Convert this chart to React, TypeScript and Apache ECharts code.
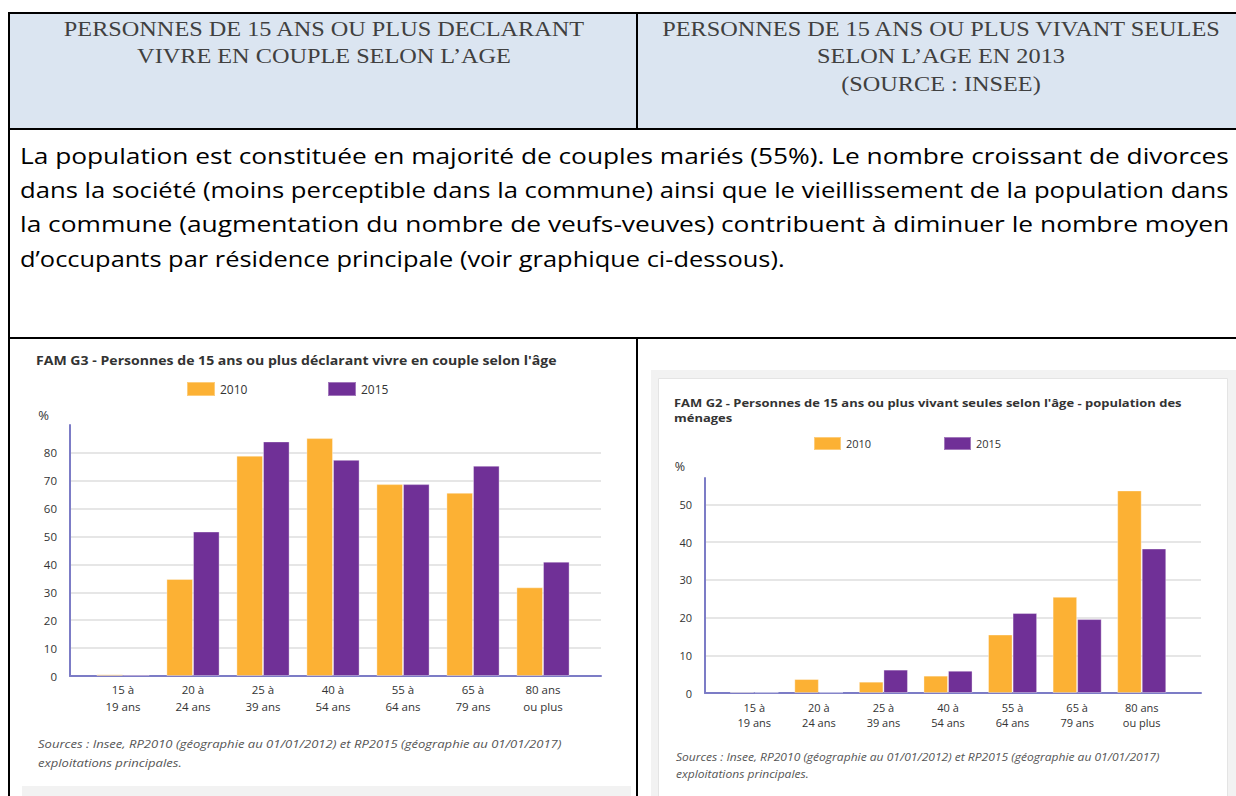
import React, { useEffect, useRef } from "react";
import * as echarts from "echarts";

const categories = [
  "15 à\n19 ans",
  "20 à\n24 ans",
  "25 à\n39 ans",
  "40 à\n54 ans",
  "55 à\n64 ans",
  "65 à\n79 ans",
  "80 ans\nou plus",
];
const seriesNames = ["2010", "2015"];
const couple2010 = [0.6, 34.8, 79.0, 85.3, 68.8, 65.7, 31.8];
const couple2015 = [0.5, 51.8, 84.1, 77.5, 68.8, 75.4, 41.0];
const seules2010 = [0.3, 3.7, 3.0, 4.6, 15.5, 25.5, 53.7];
const seules2015 = [0.2, 0.2, 6.2, 5.9, 21.2, 19.6, 38.3];
const coupleAxisMax = 90;
const seulesAxisMax = 57;
const tickStep = 10;

const headerLeft = ["PERSONNES DE 15 ANS OU PLUS DECLARANT", "VIVRE EN COUPLE SELON L’AGE"];
const headerRight = ["PERSONNES DE 15 ANS OU PLUS VIVANT SEULES", "SELON L’AGE EN 2013", "(SOURCE : INSEE)"];
const paragraph = [
  "La population est constituée en majorité de couples mariés (55%). Le nombre croissant de divorces",
  "dans la société (moins perceptible dans la commune) ainsi que le vieillissement de la population dans",
  "la commune (augmentation du nombre de veufs-veuves) contribuent à diminuer le nombre moyen",
  "d’occupants par résidence principale (voir graphique ci-dessous).",
];
const titleG3 = "FAM G3 - Personnes de 15 ans ou plus déclarant vivre en couple selon l'âge";
const titleG2 = ["FAM G2 - Personnes de 15 ans ou plus vivant seules selon l'âge - population des", "ménages"];
const sourceLines = [
  "Sources : Insee, RP2010 (géographie au 01/01/2012) et RP2015 (géographie au 01/01/2017)",
  "exploitations principales.",
];

const ORANGE = "#fcb134";
const PURPLE = "#703097";
const AXIS = "#7c7cc6";
const GRIDC = "#e6e6e6";
const SANS = "'Open Sans', 'Noto Sans', sans-serif";
const SERIF = "'Liberation Serif', serif";

export default function App() {
  const ref = useRef<HTMLDivElement>(null);
  useEffect(() => {
    if (!ref.current) return;
    const chart = echarts.init(ref.current, undefined, { renderer: "svg" });

    const ctx = document.createElement("canvas").getContext("2d")!;
    const measure = (text: string, size: number, family: string, weight = "normal", style = "normal") => {
      ctx.font = `${style} ${weight} ${size}px ${family}`;
      return ctx.measureText(text).width || 1;
    };

    const black = (x: number, y: number, w: number, h: number) => ({
      type: "rect", z: -5, shape: { x, y, width: w, height: h }, style: { fill: "#000" },
    });
    const txt = (x: number, y: number, text: string, sx: number, s: any) => ({
      type: "text", z: 5, x, y, scaleX: sx, style: { text, verticalAlign: "middle", ...s },
    });

    const graphics: any[] = [
      { type: "rect", z: -10, shape: { x: 10, y: 14, width: 1232, height: 114 }, style: { fill: "#dbe5f1" } },
      { type: "rect", z: -9, shape: { x: 651, y: 370, width: 600, height: 450 }, style: { fill: "#f2f2f2" } },
      { type: "rect", z: -8, shape: { x: 658.5, y: 378.5, width: 569, height: 450 }, style: { fill: "#fff", stroke: "#e4e4e4", lineWidth: 1 } },
      { type: "rect", z: -9, shape: { x: 22, y: 786, width: 609, height: 20 }, style: { fill: "#f2f2f2" } },
      black(8, 12, 1240, 2),
      black(8, 12, 2, 800),
      black(8, 128, 1240, 2),
      black(636, 12, 2, 118),
      black(8, 337, 1240, 2),
      black(636, 337, 2, 470),
    ];

    // header cells
    const hSize = 22;
    const hScale = 522 / measure(headerLeft[0], hSize, SERIF);
    const hStyle = { align: "center", fontFamily: SERIF, fontSize: hSize, fill: "#404040" };
    headerLeft.forEach((t, i) => graphics.push(txt(324, 28 + i * 27.5, t, hScale, hStyle)));
    headerRight.forEach((t, i) => graphics.push(txt(941, 28 + i * 27.5, t, hScale, hStyle)));

    // paragraph (justified lines stretched to the cell width)
    const pSize = 21.5;
    paragraph.forEach((t, i) => {
      const w = measure(t, pSize, SANS);
      const target = i < paragraph.length - 1 ? 1210 : 765;
      graphics.push(txt(20, 155 + i * 34.5, t, target / w, { align: "left", fontFamily: SANS, fontSize: pSize, fill: "#000" }));
    });

    // chart titles
    const g3Scale = 521 / measure(titleG3, 12, SANS, "bold");
    graphics.push(txt(36, 360, titleG3, g3Scale, { align: "left", fontFamily: SANS, fontSize: 12, fontWeight: "bold", fill: "#333" }));
    const g2Scale = 507 / measure(titleG2[0], 11.2, SANS, "bold");
    titleG2.forEach((t, i) =>
      graphics.push(txt(674, 403 + i * 15, t, g2Scale, { align: "left", fontFamily: SANS, fontSize: 11.2, fontWeight: "bold", fill: "#333" }))
    );

    // sources
    const sLScale = 524 / measure(sourceLines[0], 11, SANS, "normal", "italic");
    sourceLines.forEach((t, i) =>
      graphics.push(txt(38, 744 + i * 19, t, sLScale, { align: "left", fontFamily: SANS, fontSize: 11, fontStyle: "italic", fill: "#555" }))
    );
    const sRScale = 484 / measure(sourceLines[0], 10.3, SANS, "normal", "italic");
    sourceLines.forEach((t, i) =>
      graphics.push(txt(676, 757 + i * 17, t, sRScale, { align: "left", fontFamily: SANS, fontSize: 10.3, fontStyle: "italic", fill: "#555" }))
    );

    const decorX = (gi: number) => ({
      type: "value", gridIndex: gi, min: 0, max: 1,
      axisLine: { show: true, onZero: false, lineStyle: { color: AXIS, width: 2 } },
      axisTick: { show: false }, axisLabel: { show: false }, splitLine: { show: false },
    });
    const catX = (gi: number, fs: number, lh: number, margin: number) => ({
      type: "category", gridIndex: gi, data: categories,
      axisLine: { show: false }, axisTick: { show: false },
      axisLabel: { fontFamily: SANS, fontSize: fs, lineHeight: lh, color: "#333", margin, interval: 0 },
    });
    const decorY = (gi: number, max: number, fs: number, nameGap: number, pad: number) => ({
      type: "value", gridIndex: gi, min: 0, max, interval: tickStep,
      name: "%", nameLocation: "end", nameGap,
      nameTextStyle: { fontFamily: SANS, fontSize: fs + 1.5, color: "#333", align: "right", padding: [0, pad, 0, 0] },
      axisLine: { show: true, lineStyle: { color: AXIS, width: 2 } },
      axisTick: { show: false },
      axisLabel: { fontFamily: SANS, fontSize: fs, color: "#333", margin: 13, showMaxLabel: false },
      splitLine: { show: true, showMaxLine: false, lineStyle: { color: GRIDC, width: 2 } },
    });
    const hiddenY = (gi: number, max: number) => ({ type: "value", gridIndex: gi, min: 0, max, show: false, splitLine: { show: false } });

    const bar = (name: string, data: number[], ai: number, color: string) => ({
      type: "bar", name, data, xAxisIndex: ai, yAxisIndex: ai,
      barGap: "0%", barCategoryGap: "24%",
      itemStyle: { color, borderColor: "rgba(255,255,255,0.35)", borderWidth: 1 },
    });

    const leg = (name: string, left: number, top: number, w: number, h: number, fs: number) => ({
      data: [name], left, top, padding: 0, icon: "rect", itemWidth: w, itemHeight: h, itemGap: 0, selectedMode: false,
      textStyle: { fontFamily: SANS, fontSize: fs, color: "#333" },
    });

    chart.setOption({
      animation: false,
      backgroundColor: "#fff",
      graphic: graphics,
      legend: [
        leg(seriesNames[0], 186, 381, 28, 14, 12),
        leg(seriesNames[1], 327, 381, 28, 14, 12),
        leg(seriesNames[0], 813, 436, 27, 13, 11),
        leg(seriesNames[1], 943, 436, 27, 13, 11),
      ],
      grid: [
        { left: 70, top: 425, width: 531, height: 251 },
        { left: 88, top: 425, width: 490, height: 251 },
        { left: 705, top: 478, width: 496, height: 215 },
        { left: 722, top: 478, width: 452, height: 215 },
      ],
      xAxis: [decorX(0), catX(1, 11.5, 17, 5), decorX(2), catX(3, 11, 15, 6.5)],
      yAxis: [
        decorY(0, coupleAxisMax, 11.5, 4, 21),
        hiddenY(1, coupleAxisMax),
        decorY(2, seulesAxisMax, 11, 5, 20),
        hiddenY(3, seulesAxisMax),
      ],
      series: [
        bar(seriesNames[0], couple2010, 1, ORANGE),
        bar(seriesNames[1], couple2015, 1, PURPLE),
        bar(seriesNames[0], seules2010, 3, ORANGE),
        bar(seriesNames[1], seules2015, 3, PURPLE),
      ],
    });
    return () => chart.dispose();
  }, []);
  return <div ref={ref} style={{ position: "absolute", left: 0, top: 0, width: 1236, height: 796 }} />;
}
